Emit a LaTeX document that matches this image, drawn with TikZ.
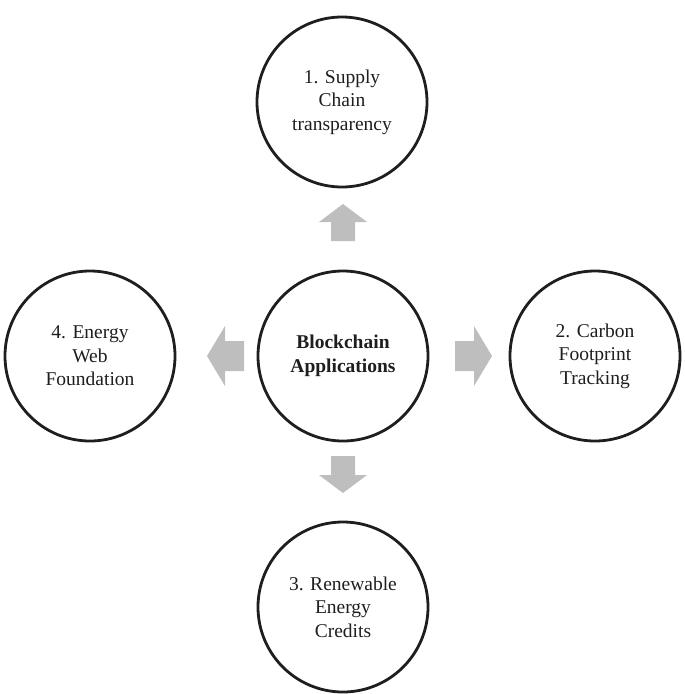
\documentclass[tikz,border=0pt]{standalone}
\usepackage{fontspec}
\setmainfont{Liberation Serif}
\definecolor{arrowgray}{RGB}{190,190,190}
\definecolor{inkcol}{RGB}{30,30,30}
\tikzset{
  circ/.style={circle, draw=inkcol, line width=2.8pt, minimum size=170pt, inner sep=0pt,
    align=center, text=inkcol, font=\fontsize{19.5}{23.5}\selectfont},
  blockarrow/.style={fill=arrowgray, draw=none},
}
\begin{document}
\begin{tikzpicture}[x=1pt,y=-1pt]
  \useasboundingbox (0,0) rectangle (685,694);
  \node[circ] (center) at (343,356) {\textbf{Blockchain}\\\textbf{Applications}};
  \node[circ] (top) at (342,102) {1. Supply\\Chain\\transparency};
  \node[circ] (right) at (595,356) {2. Carbon\\Footprint\\Tracking};
  \node[circ] (bottom) at (343,607) {3. Renewable\\Energy\\Credits};
  \node[circ] (left) at (90,356) {4. Energy\\Web\\Foundation};
  % up arrow
  \coordinate (aup) at (343,241);
  \fill[blockarrow] (aup) ++(-12,0) -- ++(0,-19) -- ++(-12,0) -- ++(24,-18) -- ++(24,18)
    -- ++(-12,0) -- ++(0,19) -- cycle;
  % right arrow
  \coordinate (aright) at (455,356);
  \fill[blockarrow] (aright) ++(0,-15) -- ++(19,0) -- ++(0,-15) -- ++(18,30) -- ++(-18,30)
    -- ++(0,-15) -- ++(-19,0) -- cycle;
  % left arrow
  \coordinate (aleft) at (244,356);
  \fill[blockarrow] (aleft) ++(0,-15) -- ++(-19,0) -- ++(0,-15) -- ++(-18,30) -- ++(18,30)
    -- ++(0,-15) -- ++(19,0) -- cycle;
  % down arrow
  \coordinate (adown) at (343,456);
  \fill[blockarrow] (adown) ++(-12,0) -- ++(0,19) -- ++(-12,0) -- ++(24,18) -- ++(24,-18)
    -- ++(-12,0) -- ++(0,-19) -- cycle;
\end{tikzpicture}
\end{document}
